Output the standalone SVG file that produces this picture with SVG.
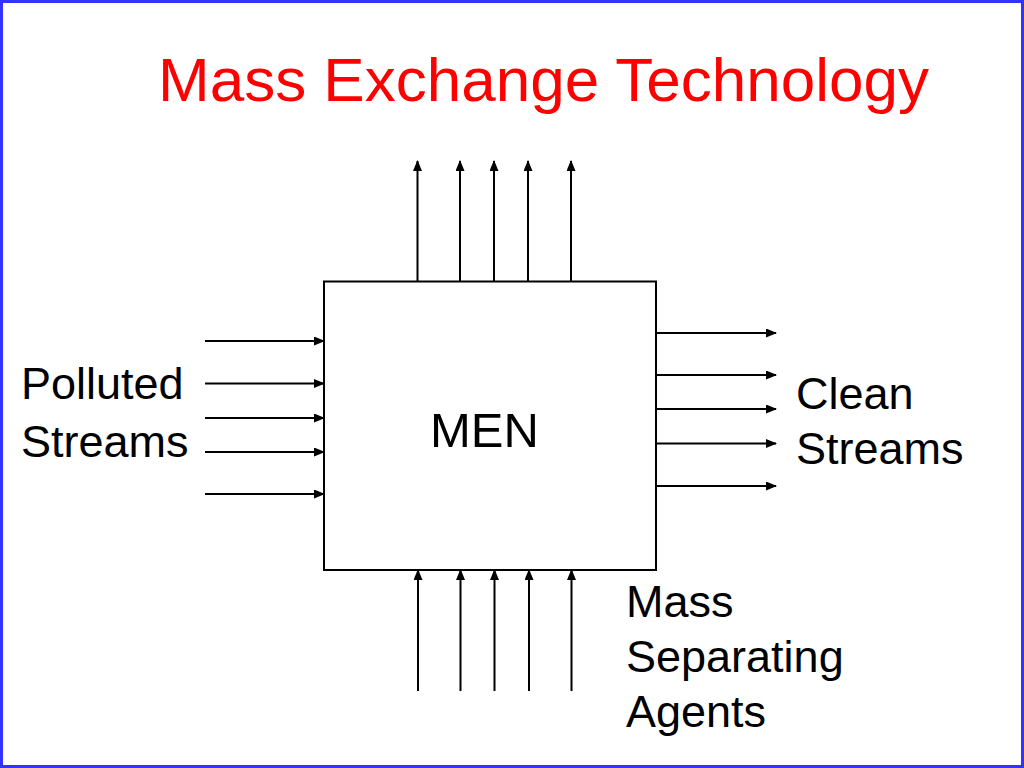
<svg xmlns="http://www.w3.org/2000/svg" width="1024" height="768" viewBox="0 0 1024 768">
<defs>
<style>
.t{font-family:"Liberation Sans",Arial,sans-serif;fill:#000;font-size:45px}
.c{stroke:#000;stroke-width:2;fill:none;marker-end:url(#ah)}
</style>
<marker id="ah" markerWidth="11" markerHeight="9" refX="10" refY="4.5" orient="auto" markerUnits="userSpaceOnUse">
<path d="M0,0 L11,4.5 L0,9 Z" fill="#000"/>
</marker>
</defs>
<rect x="0" y="0" width="1024" height="768" fill="#fff"/>
<rect x="1.5" y="1.5" width="1021" height="765" fill="none" stroke="#3333ff" stroke-width="3"/>
<text x="158" y="101" font-family="'Liberation Sans',Arial,sans-serif" font-size="62" fill="#ff0000">Mass Exchange Technology</text>
<g id="men">
<rect x="324" y="281.5" width="332" height="288.5" fill="#fff" stroke="#000" stroke-width="2"/>
<text class="t" x="430" y="447" style="font-size:49px">MEN</text>
</g>
<g id="polluted">
<text class="t" x="21" y="399">Polluted</text>
<text class="t" x="21" y="457">Streams</text>
</g>
<g id="clean">
<text class="t" x="796" y="409">Clean</text>
<text class="t" x="796" y="464">Streams</text>
</g>
<g id="msa">
<text class="t" x="626" y="617">Mass</text>
<text class="t" x="626" y="672">Separating</text>
<text class="t" x="626" y="727">Agents</text>
</g>
<g id="connectors">
<line class="c" x1="417.5" y1="281" x2="417.5" y2="161"/>
<line class="c" x1="460" y1="281" x2="460" y2="161"/>
<line class="c" x1="494" y1="281" x2="494" y2="161"/>
<line class="c" x1="528" y1="281" x2="528" y2="161"/>
<line class="c" x1="571" y1="281" x2="571" y2="161"/>
<line class="c" x1="205" y1="341" x2="324" y2="341"/>
<line class="c" x1="205" y1="383.5" x2="324" y2="383.5"/>
<line class="c" x1="205" y1="418" x2="324" y2="418"/>
<line class="c" x1="205" y1="452" x2="324" y2="452"/>
<line class="c" x1="205" y1="494" x2="324" y2="494"/>
<line class="c" x1="657" y1="333" x2="776" y2="333"/>
<line class="c" x1="657" y1="375" x2="776" y2="375"/>
<line class="c" x1="657" y1="409" x2="776" y2="409"/>
<line class="c" x1="657" y1="443.5" x2="776" y2="443.5"/>
<line class="c" x1="657" y1="486" x2="776" y2="486"/>
<line class="c" x1="418" y1="691" x2="418" y2="570"/>
<line class="c" x1="460.5" y1="691" x2="460.5" y2="570"/>
<line class="c" x1="494.5" y1="691" x2="494.5" y2="570"/>
<line class="c" x1="529" y1="691" x2="529" y2="570"/>
<line class="c" x1="571.5" y1="691" x2="571.5" y2="570"/>
</g>
</svg>
